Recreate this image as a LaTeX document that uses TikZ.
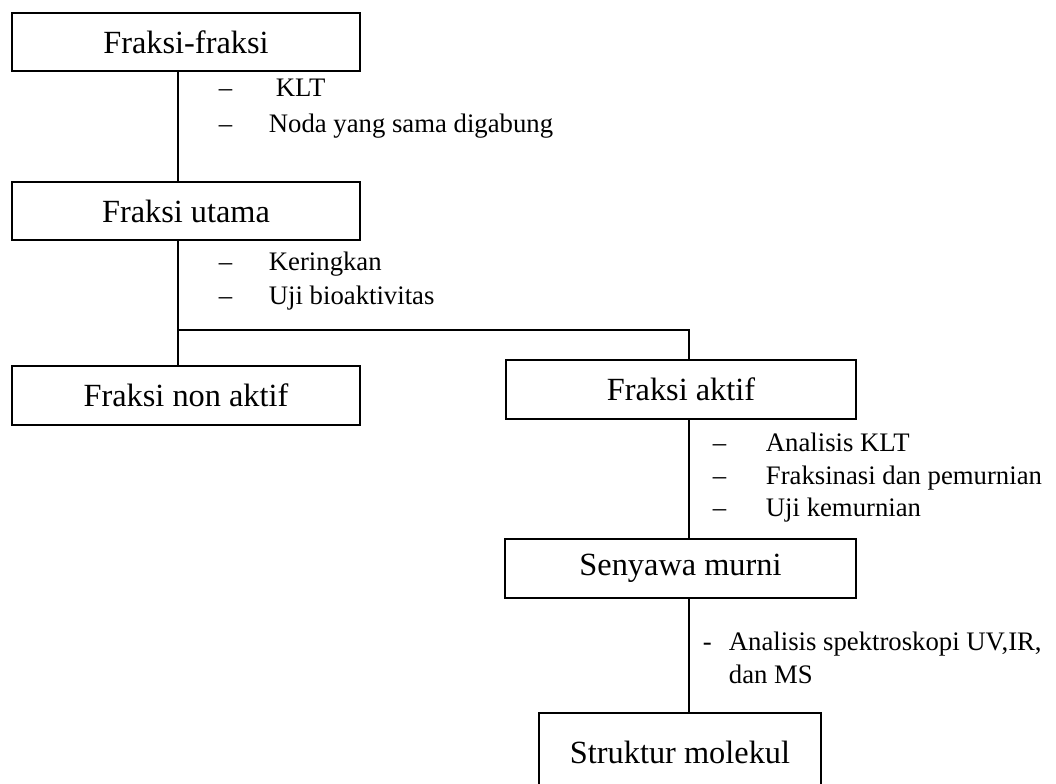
\documentclass[tikz,border=0pt]{standalone}
\usepackage{fontspec}
\setmainfont{Liberation Serif}
\usepackage{tikz}

\begin{document}
\begin{tikzpicture}[x=0.025cm,y=-0.025cm,line width=1.3pt,
	box/.style={draw,minimum height=1.46cm,inner sep=0pt,font=\fontsize{23}{27}\selectfont},
	lbl/.style={anchor=base west,inner sep=0pt,font=\fontsize{19}{22}\selectfont}]
	\useasboundingbox (0,0) rectangle (1056,783);
	\clip (0,0) rectangle (1056,783);
	% Nodes
	\node[box,minimum width=8.7cm] (ff) at (186,42) {Fraksi-fraksi};
	\node[box,minimum width=8.7cm] (fu) at (186,211) {Fraksi utama};
	\node[box,minimum width=8.7cm] (fna) at (186,395.5) {Fraksi non aktif};
	\node[box,minimum width=8.75cm] (fa) at (681,389.5) {Fraksi aktif};
	\node[box,minimum width=8.775cm] (sm) at (680.5,568.5) {Senyawa murni};
	\node[box,minimum width=7.05cm,minimum height=1.95cm] (stm) at (680,752) {Struktur molekul};
	\coordinate (jl) at (178,330);
	\coordinate (jr) at (689,330);
	% Edges
	\draw (ff.south -| jl) -- (fu.north -| jl);
	\draw (fu.south -| jl) -- (jl) -- (jr) -- (fa.north -| jr);
	\draw (jl) -- (fna.north -| jl);
	\draw (fa.south -| jr) -- (sm.north -| jr);
	\draw (sm.south -| jr) -- (stm.north -| jr);
	% Labels
	\node[lbl] (d1) at (218,96) {--};
	\node[lbl] (t1) at (275,96) {KLT};
	\node[lbl] (d2) at (218,132) {--};
	\node[lbl] (t2) at (268,132) {Noda yang sama digabung};
	\node[lbl] (d3) at (218,270) {--};
	\node[lbl] (t3) at (268,270) {Keringkan};
	\node[lbl] (d4) at (218,304) {--};
	\node[lbl] (t4) at (268,304) {Uji bioaktivitas};
	\node[lbl] (d5) at (712,451) {--};
	\node[lbl] (t5) at (765,451) {Analisis KLT};
	\node[lbl] (d6) at (712,484) {--};
	\node[lbl] (t6) at (765,484) {Fraksinasi dan pemurnian};
	\node[lbl] (d7) at (712,516) {--};
	\node[lbl] (t7) at (765,516) {Uji kemurnian};
	\node[lbl] (d8) at (702,650) {-};
	\node[lbl] (t8) at (728,650) {Analisis spektroskopi UV,IR,};
	\node[lbl] (t9) at (728,683) {dan MS};
\end{tikzpicture}
\end{document}
